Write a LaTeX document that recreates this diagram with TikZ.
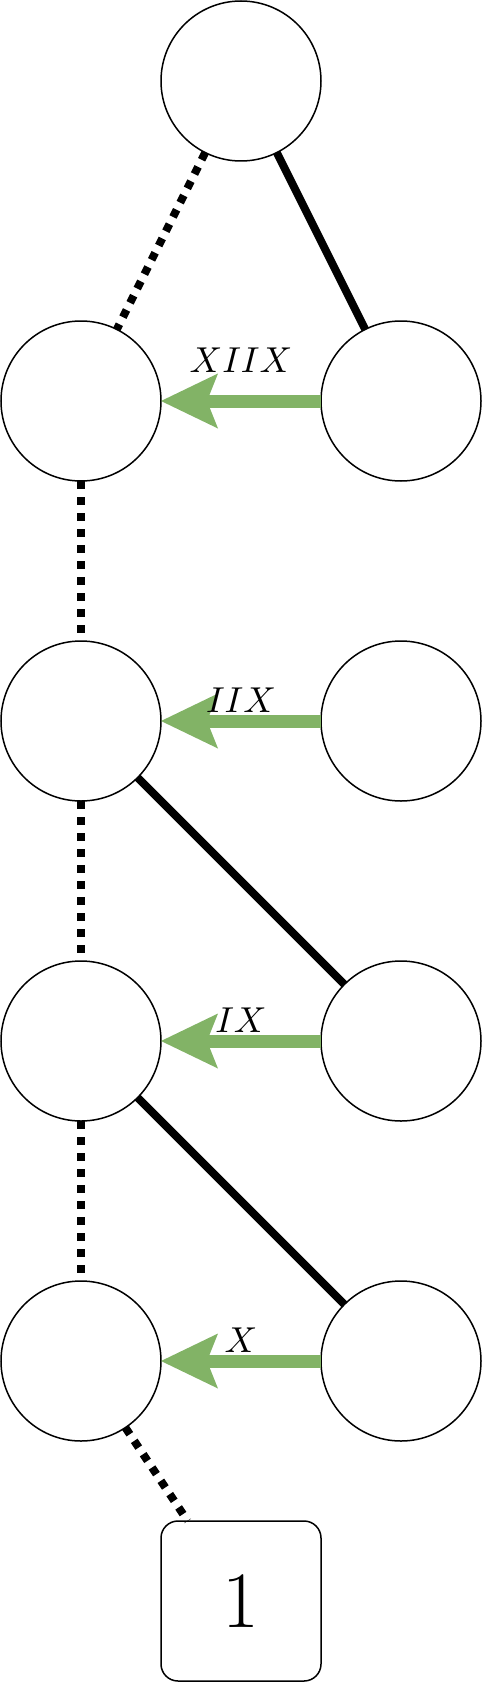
\RequirePackage{fix-cm}
\documentclass[tikz,border=0pt]{standalone}
\DeclareFontFamily{OML}{cmm}{\skewchar\font127}
\DeclareFontShape{OML}{cmm}{m}{it}{<->cmmi10}{}
\DeclareFontShape{OT1}{cmr}{m}{n}{<->cmr10}{}
\usetikzlibrary{arrows.meta}
\definecolor{edgegreen}{HTML}{82B366}
\begin{document}
\begin{tikzpicture}[x=1pt,y=-1pt,
  vtx/.style={circle,draw=black,line width=1.5pt,fill=white,minimum size=160pt,inner sep=0pt,outer sep=0pt},
  leafbox/.style={rectangle,rounded corners=17pt,draw=black,line width=1.5pt,fill=white,minimum size=160pt,inner sep=0pt,outer sep=0pt,font=\fontsize{80}{90}\selectfont},
  dotline/.style={line width=8pt,dash pattern=on 8pt off 8pt},
  solidline/.style={line width=8pt},
  greenarrow/.style={draw=edgegreen,line width=13pt,-{Stealth[length=57pt,width=55pt,inset=11pt,line width=0pt,fill=edgegreen]}},
  lbl/.style={anchor=base,inner sep=0pt,font=\fontsize{36}{44}\selectfont}
]
\useasboundingbox (0,0) rectangle (482,1704);
% nodes
\node[vtx] (top) at (241,81) {};
\node[vtx] (l2) at (81,401) {};
\node[vtx] (r2) at (401,401) {};
\node[vtx] (l3) at (81,721) {};
\node[vtx] (r3) at (401,721) {};
\node[vtx] (l4) at (81,1041) {};
\node[vtx] (r4) at (401,1041) {};
\node[vtx] (l5) at (81,1361) {};
\node[vtx] (r5) at (401,1361) {};
\node[leafbox] (one) at (241,1601) {1};
% connectors
\draw[dotline] (top) -- (l2);
\draw[solidline] (top) -- (r2);
\draw[dotline] (l2) -- (l3);
\draw[dotline] (l3) -- (l4);
\draw[dotline] (l4) -- (l5);
\draw[solidline] (l3) -- (r4);
\draw[solidline] (l4) -- (r5);
\draw[dotline] (l5) -- (one);
\draw[greenarrow] (r2) -- (l2);
\draw[greenarrow] (r3) -- (l3);
\draw[greenarrow] (r4) -- (l4);
\draw[greenarrow] (r5) -- (l5);
% labels
\node[lbl] (t2) at (241,372) {$XIIX$};
\node[lbl] (t3) at (241,712) {$IIX$};
\node[lbl] (t4) at (241,1032) {$IX$};
\node[lbl] (t5) at (241,1352) {$X$};
\end{tikzpicture}
\end{document}
